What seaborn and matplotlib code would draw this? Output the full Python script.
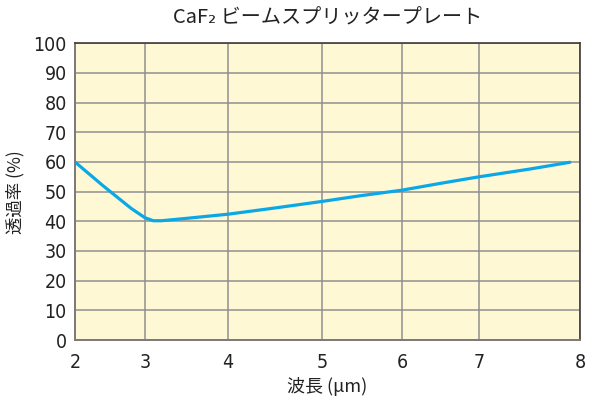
import numpy as np
import pandas as pd
import matplotlib
matplotlib.use("Agg")
import matplotlib.pyplot as plt
import seaborn as sns

# Data (wavelength in um, transmission in %)
wavelength = [2.0, 2.4, 2.8, 3.0, 3.1, 3.2, 3.5, 4.0, 4.5, 5.0, 5.5, 6.0, 6.5, 7.0, 7.5, 7.9]
transmission = [60.0, 52.0, 44.4, 41.2, 40.2, 40.2, 41.0, 42.4, 44.5, 46.7, 48.7, 50.5, 52.8, 55.0, 57.6, 59.9]

x_ticks = [2, 3, 4, 5, 6, 7, 8]
y_ticks = [0, 10, 20, 30, 40, 50, 60, 70, 80, 90, 100]

title = "CaF\u2082 ビームスプリッタープレート"
x_label = "波長 (μm)"
y_label = "透過率 (%)"

# The original axis is not evenly spaced: where each tick sits (0..1 across the axis)
TICK_FRAC = [0.0, 0.1386, 0.3030, 0.4891, 0.6475, 0.8000, 1.0]


def fwd(x):
    return np.interp(x, x_ticks, TICK_FRAC)


def inv(f):
    return np.interp(f, TICK_FRAC, x_ticks)


df = pd.DataFrame({"wavelength": wavelength, "transmission": transmission})

sns.set_style("white")
plt.rcParams["font.family"] = ["Noto Sans CJK JP", "DejaVu Sans"]

fig = plt.figure(figsize=(5.97, 4.0), dpi=100)
ax = fig.add_axes([75 / 597, 1 - 340 / 400, 505 / 597, (340 - 43.3) / 400])
ax.set_facecolor("#FFF8D5")

ax.set_xscale("function", functions=(fwd, inv))
ax.set_xlim(2, 8)
ax.set_ylim(0, 100)
ax.set_xticks(x_ticks)
ax.set_yticks(y_ticks)

ax.grid(True, color="#8f8f8f", linewidth=1.1)
ax.set_axisbelow(True)

sns.lineplot(data=df, x="wavelength", y="transmission", ax=ax,
             color="#0AA8E6", linewidth=2.3)

for side in ["top", "right"]:
    ax.spines[side].set_color("#3c3c3c")
    ax.spines[side].set_linewidth(1.2)
for side in ["left", "bottom"]:
    ax.spines[side].set_color("#7a7a7a")
    ax.spines[side].set_linewidth(1.4)

ax.tick_params(axis="both", length=3, width=1, color="#8f8f8f",
               labelsize=14, labelcolor="#222222", pad=6)
ax.tick_params(axis="y", pad=3)
# narrow digits like the original
for lab in ax.get_xticklabels() + ax.get_yticklabels():
    lab.set_family("DejaVu Sans")
    lab.set_stretch("condensed")
    lab.set_fontsize(14)

ax.set_xlabel(x_label, fontsize=13, color="#222222", labelpad=4)
ax.set_ylabel(y_label, fontsize=12.5, color="#222222", labelpad=6)
ax.set_title(title, fontsize=14.5, color="#222222", pad=14)

fig.savefig("out.png", dpi=100)
